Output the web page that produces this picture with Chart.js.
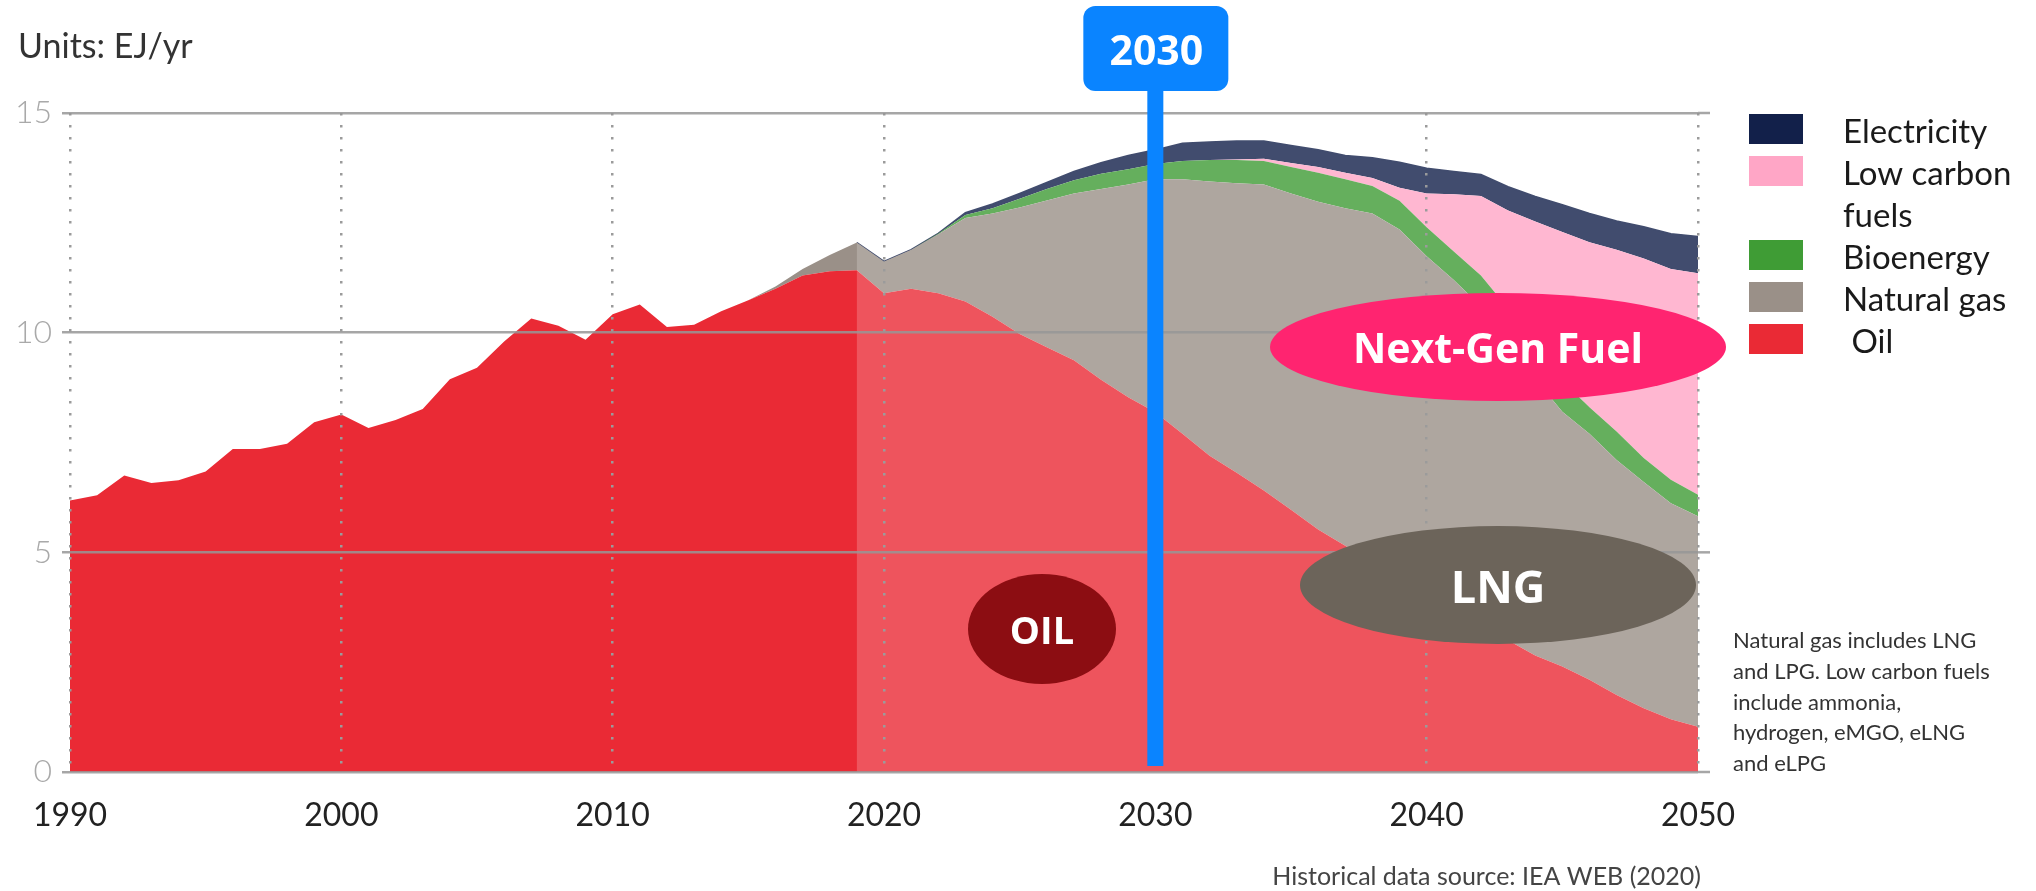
<!DOCTYPE html>
<html>
<head>
<meta charset="utf-8">
<script src="https://cdn.jsdelivr.net/npm/chart.js@4.4.0/dist/chart.umd.min.js"></script>
<style>
  html, body { margin: 0; padding: 0; background: #fff; }
  #wrap { width: 2036px; height: 891px; }
</style>
</head>
<body>
<div id="wrap"><canvas id="chart" width="2036" height="891"></canvas></div>
<script>
// years on the x axis
const years = [
  1990, 1991, 1992, 1993, 1994, 1995, 1996, 1997, 1998, 1999,
  2000, 2001, 2002, 2003, 2004, 2005, 2006, 2007, 2008, 2009,
  2010, 2011, 2012, 2013, 2014, 2015, 2016, 2017, 2018, 2019,
  2020, 2021, 2022, 2023, 2024, 2025, 2026, 2027, 2028, 2029,
  2030, 2031, 2032, 2033, 2034, 2035, 2036, 2037, 2038, 2039,
  2040, 2041, 2042, 2043, 2044, 2045, 2046, 2047, 2048, 2049, 2050
];

// EJ/yr
const oil = [
  6.18, 6.30, 6.75, 6.58, 6.64, 6.84, 7.35, 7.35, 7.47, 7.96,
  8.14, 7.83, 8.01, 8.26, 8.94, 9.20, 9.80, 10.32, 10.16, 9.84,
  10.42, 10.64, 10.13, 10.18, 10.49, 10.74, 11.00, 11.30, 11.40, 11.42,
  10.90, 11.00, 10.90, 10.71, 10.36, 9.97, 9.67, 9.37, 8.93, 8.53,
  8.19, 7.70, 7.20, 6.81, 6.41, 5.97, 5.52, 5.15, 4.80, 4.45,
  4.15, 3.80, 3.40, 3.00, 2.65, 2.40, 2.10, 1.75, 1.45, 1.20, 1.03
];
const naturalGas = [
  0, 0, 0, 0, 0, 0, 0, 0, 0, 0,
  0, 0, 0, 0, 0, 0, 0, 0, 0, 0,
  0, 0, 0, 0, 0, 0, 0.05, 0.15, 0.37, 0.63,
  0.72, 0.89, 1.34, 1.90, 2.35, 2.88, 3.34, 3.80, 4.34, 4.84,
  5.30, 5.79, 6.24, 6.59, 6.96, 7.20, 7.46, 7.68, 7.91, 7.90,
  7.59, 7.40, 7.20, 6.90, 6.30, 5.80, 5.60, 5.35, 5.15, 4.92, 4.79
];
const bioenergy = [
  0, 0, 0, 0, 0, 0, 0, 0, 0, 0,
  0, 0, 0, 0, 0, 0, 0, 0, 0, 0,
  0, 0, 0, 0, 0, 0, 0, 0, 0, 0,
  0, 0, 0.02, 0.07, 0.12, 0.20, 0.26, 0.30, 0.35, 0.35,
  0.35, 0.42, 0.49, 0.53, 0.54, 0.60, 0.66, 0.66, 0.63, 0.65,
  0.66, 0.65, 0.70, 0.65, 0.70, 0.70, 0.60, 0.65, 0.55, 0.53, 0.49
];
const lowCarbon = [
  0, 0, 0, 0, 0, 0, 0, 0, 0, 0,
  0, 0, 0, 0, 0, 0, 0, 0, 0, 0,
  0, 0, 0, 0, 0, 0, 0, 0, 0, 0,
  0, 0, 0, 0, 0, 0, 0, 0, 0, 0,
  0, 0, 0, 0.01, 0.05, 0.09, 0.13, 0.15, 0.18, 0.30,
  0.77, 1.30, 1.81, 2.23, 2.88, 3.39, 3.76, 4.14, 4.54, 4.80, 5.04
];
const electricity = [
  0, 0, 0, 0, 0, 0, 0, 0, 0, 0,
  0, 0, 0, 0, 0, 0, 0, 0, 0, 0,
  0, 0, 0, 0, 0, 0, 0, 0, 0, 0,
  0, 0, 0, 0.05, 0.10, 0.12, 0.15, 0.20, 0.25, 0.31,
  0.32, 0.40, 0.41, 0.42, 0.40, 0.40, 0.39, 0.39, 0.46, 0.58,
  0.57, 0.52, 0.49, 0.54, 0.57, 0.62, 0.65, 0.65, 0.72, 0.80, 0.84
];

const xTicks = [1990, 2000, 2010, 2020, 2030, 2040, 2050];
const yTicks = [0, 5, 10, 15];
const projectionStart = 2019;
const markerYear = 2030;

const colors = {
  oil: '#ea2a35',
  gas: '#9a9088',
  bio: '#3f9c35',
  pink: '#ffa6c6',
  elec: '#12204a'
};

function pts(arr) {
  return years.map((y, i) => ({ x: y, y: arr[i] }));
}

function area(label, arr, color, fill) {
  return {
    label: label,
    data: pts(arr),
    backgroundColor: color,
    borderColor: color,
    borderWidth: 0,
    fill: fill,
    pointRadius: 0,
    tension: 0
  };
}

// electricity gets a thin edge from 2019 on (shows even when the band is empty)
const elecSet = area('Electricity', electricity, colors.elec, '-1');
elecSet.borderWidth = 1.6;
elecSet.segment = {
  borderColor: ctx => years[ctx.p0DataIndex] < projectionStart ? 'rgba(0,0,0,0)' : colors.elec
};

const legendRows = [
  { color: colors.elec, lines: ['Electricity'] },
  { color: colors.pink, lines: ['Low carbon', 'fuels'] },
  { color: colors.bio, lines: ['Bioenergy'] },
  { color: colors.gas, lines: ['Natural gas'] },
  { color: colors.oil, lines: [' Oil'] }
];

const noteLines = [
  'Natural gas includes LNG',
  'and LPG. Low carbon fuels',
  'include ammonia,',
  'hydrogen, eMGO, eLNG',
  'and eLPG'
];

function ellipse(ctx, cx, cy, rx, ry, fill, text, font, baseline) {
  ctx.beginPath();
  ctx.ellipse(cx, cy, rx, ry, 0, 0, Math.PI * 2);
  ctx.fillStyle = fill;
  ctx.fill();
  ctx.fillStyle = '#fff';
  ctx.font = font;
  ctx.textAlign = 'center';
  ctx.textBaseline = 'alphabetic';
  ctx.fillText(text, cx, baseline);
}

// lighter wash over the projected years
const projectionWash = {
  id: 'projectionWash',
  afterDatasetsDraw(chart) {
    const { ctx, chartArea, scales } = chart;
    const x0 = scales.x.getPixelForValue(projectionStart);
    const x1 = scales.x.getPixelForValue(2050);
    ctx.save();
    ctx.fillStyle = 'rgba(255,255,255,0.2)';
    ctx.fillRect(x0, chartArea.top, x1 - x0, chartArea.bottom - chartArea.top);
    ctx.restore();
  }
};

const extras = {
  id: 'extras',
  afterDraw(chart) {
    const { ctx, chartArea, scales } = chart;
    ctx.save();

    // grid lines run a little past 2050
    ctx.strokeStyle = 'rgba(150,150,150,0.85)';
    ctx.lineWidth = 2.5;
    yTicks.forEach(v => {
      const y = scales.y.getPixelForValue(v);
      ctx.beginPath();
      ctx.moveTo(chartArea.right, y);
      ctx.lineTo(chartArea.right + 12, y);
      ctx.stroke();
    });

    ctx.fillStyle = '#333';
    ctx.font = '34px Lato';
    ctx.textAlign = 'left';
    ctx.textBaseline = 'alphabetic';
    ctx.fillText('Units: EJ/yr', 18, 58);

    // legend
    let y = 129;
    legendRows.forEach(row => {
      ctx.fillStyle = row.color;
      ctx.fillRect(1749, y - 15, 54, 30);
      ctx.fillStyle = '#1a1a1a';
      ctx.font = '33px Lato';
      ctx.textBaseline = 'middle';
      row.lines.forEach((t, k) => {
        ctx.fillText(t, 1843, y + 3 + k * 42);
      });
      y += 42 * row.lines.length;
    });

    ctx.fillStyle = '#333';
    ctx.font = '22px Lato';
    noteLines.forEach((t, k) => ctx.fillText(t, 1733, 641 + k * 30.8));

    ctx.fillStyle = '#444';
    ctx.font = '25px Lato';
    ctx.textAlign = 'right';
    ctx.fillText('Historical data source: IEA WEB (2020)', 1701, 877);

    ellipse(ctx, 1498, 347, 228, 54, '#ff2470', 'Next-Gen Fuel', 'bold 41px "Open Sans"', 363);
    ellipse(ctx, 1498, 585, 198, 59, '#6c645a', 'LNG', 'bold 45px "Open Sans"', 603);
    ellipse(ctx, 1042, 629, 74, 55, '#8c0d12', 'OIL', 'bold 38px "Open Sans"', 644);

    // 2030 marker
    const mx = scales.x.getPixelForValue(markerYear);
    ctx.fillStyle = '#0a84ff';
    ctx.fillRect(mx - 8, 80, 16, 686);
    ctx.beginPath();
    ctx.roundRect(mx - 72, 6, 145, 85, 12);
    ctx.fill();
    ctx.fillStyle = '#fff';
    ctx.font = 'bold 41px "Open Sans"';
    ctx.textAlign = 'center';
    ctx.textBaseline = 'alphabetic';
    ctx.fillText(String(markerYear), mx + 1, 65);

    ctx.restore();
  }
};

new Chart(document.getElementById('chart'), {
  type: 'line',
  data: {
    datasets: [
      area('Oil', oil, colors.oil, 'origin'),
      area('Natural gas', naturalGas, colors.gas, '-1'),
      area('Bioenergy', bioenergy, colors.bio, '-1'),
      area('Low carbon fuels', lowCarbon, colors.pink, '-1'),
      elecSet
    ]
  },
  options: {
    responsive: false,
    devicePixelRatio: 1,
    animation: false,
    layout: { padding: { top: 113, right: 338, left: 0, bottom: 0 } },
    plugins: {
      legend: { display: false },
      tooltip: { enabled: false }
    },
    scales: {
      x: {
        type: 'linear',
        min: 1990,
        max: 2050,
        afterFit: s => { s.height = 119; },
        afterBuildTicks: s => { s.ticks = xTicks.map(v => ({ value: v })); },
        grid: {
          z: 1,
          color: '#9b9b9b',
          lineWidth: 2.5,
          drawTicks: false
        },
        border: { display: false, dash: [2.5, 9.5] },
        ticks: {
          padding: 24,
          color: '#222',
          font: { family: 'Lato', size: 32 },
          callback: v => String(v)
        }
      },
      y: {
        stacked: true,
        min: 0,
        max: 15,
        afterFit: s => { s.width = 70; },
        afterBuildTicks: s => { s.ticks = yTicks.map(v => ({ value: v })); },
        grid: {
          z: 1,
          color: 'rgba(150,150,150,0.85)',
          lineWidth: 2.5,
          tickLength: 8
        },
        border: { display: false },
        ticks: {
          padding: 10,
          color: '#a9a9a9',
          font: { family: 'Lato', size: 32, weight: 300 }
        }
      }
    }
  },
  plugins: [projectionWash, extras]
});
</script>
</body>
</html>
